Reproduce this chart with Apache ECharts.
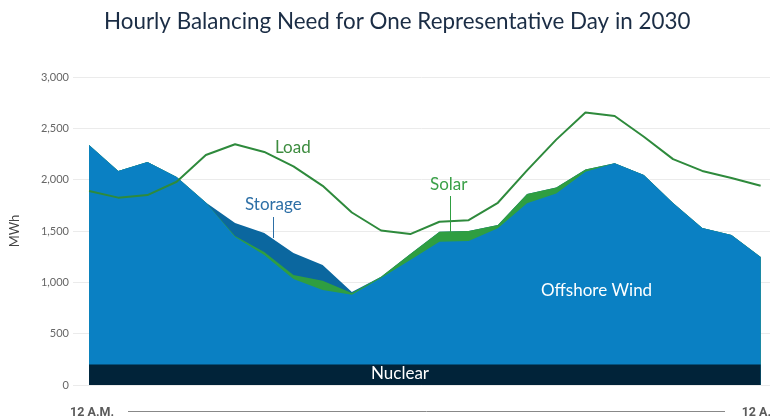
<!DOCTYPE html>
<html>
<head>
<meta charset="utf-8">
<script src="https://cdn.jsdelivr.net/npm/echarts@6/dist/echarts.min.js"></script>
<style>
  html, body { margin: 0; padding: 0; background: #fff; }
  #balance-chart { width: 770px; height: 419px; }
</style>
</head>
<body>
<div id="balance-chart"></div>
<script>
// hours of the day, 0 = 12 A.M.
var hours = [0, 1, 2, 3, 4, 5, 6, 7, 8, 9, 10, 11, 12, 13, 14, 15, 16, 17, 18, 19, 20, 21, 22, 23];
var endLabels = ['12 A.M.', '12 A.M.'];

// MWh per hour
var nuclear = [200, 200, 200, 200, 200, 200, 200, 200, 200, 200, 200, 200, 200, 200, 200, 200, 200, 200, 200, 200, 200, 200, 200, 200];
var offshoreWind = [2137, 1884, 1971, 1825, 1578, 1241, 1066, 832, 725, 680, 842, 1017, 1196, 1202, 1326, 1570, 1666, 1878, 1961, 1845, 1572, 1329, 1261, 1046];
var solar = [0, 0, 0, 0, 0, 10, 29, 40, 90, 15, 13, 60, 97, 98, 32, 90, 58, 22, 0, 0, 0, 0, 0, 0];
var storage = [0, 0, 0, 0, 0, 126, 185, 214, 153, 10, 0, 0, 0, 0, 0, 0, 0, 0, 0, 0, 0, 0, 0, 0];
var load = [1890, 1825, 1850, 1980, 2240, 2345, 2270, 2130, 1940, 1680, 1505, 1470, 1590, 1605, 1775, 2090, 2390, 2655, 2620, 2418, 2200, 2085, 2016, 1940];

// stacking done by hand (x is a value axis so the gridlines can run past the data)
var layers = [nuclear, offshoreWind, solar, storage];
var tops = [];
var run = hours.map(function () { return 0; });
layers.forEach(function (arr) {
    run = run.map(function (v, i) { return v + arr[i]; });
    tops.push(run.slice());
});

function pairs(arr) {
    return hours.map(function (h, i) { return [h, arr[i]]; });
}

function areaSeries(name, arr, color, z) {
    return {
        name: name,
        type: 'line',
        symbol: 'none',
        z: z,
        lineStyle: { width: 0 },
        areaStyle: { color: color, opacity: 1 },
        itemStyle: { color: color },
        data: pairs(arr)
    };
}

function label(text, x, y, color) {
    return { type: 'text', left: x, top: y, z: 100, style: { text: text, fill: color, font: '17px Lato' } };
}

function initBalanceChart() {
    var _chart = echarts.init(document.getElementById('balance-chart'));
    var option = {
        animation: false,
        title: {
            text: 'Hourly Balancing Need for One Representative Day in 2030',
            left: 99,
            top: 6,
            textStyle: {
                fontFamily: 'Lato',
                fontWeight: 'normal',
                fontSize: 22.4,
                color: '#1b2d45'
            }
        },
        grid: {
            left: 73,
            right: 0,
            top: 77,
            bottom: 34,
            outerBoundsMode: 'none'
        },
        xAxis: {
            type: 'value',
            min: -0.55,
            max: 23.32,
            axisLine: { show: false },
            axisTick: { show: false },
            splitLine: { show: false },
            axisLabel: {
                customValues: [0, 23],
                formatter: function (v) { return v === 0 ? endLabels[0] : endLabels[1]; },
                margin: 21,
                padding: [0, 0, 0, 6],
                fontFamily: 'Roboto',
                fontWeight: 'bold',
                fontSize: 12.5,
                color: '#5a5a5a'
            }
        },
        yAxis: {
            type: 'value',
            min: 0,
            max: 3000,
            interval: 500,
            name: 'MWh',
            nameLocation: 'middle',
            nameGap: 52,
            nameTextStyle: { fontFamily: 'Lato', fontSize: 13, color: '#444' },
            axisLine: { show: false },
            axisTick: { show: false },
            splitLine: { lineStyle: { color: '#ebebeb' } },
            axisLabel: {
                margin: 4,
                fontFamily: 'Lato',
                fontSize: 11,
                color: '#666',
                formatter: function (v) { return v.toLocaleString('en-US'); }
            }
        },
        series: [
            areaSeries('Storage', tops[3], '#0b679f', 2),
            areaSeries('Solar', tops[2], '#2f9e41', 3),
            areaSeries('Offshore Wind', tops[1], '#0a80c3', 4),
            areaSeries('Nuclear', tops[0], '#012339', 5),
            {
                name: 'Load',
                type: 'line',
                symbol: 'none',
                z: 6,
                lineStyle: { color: '#2e8a3c', width: 2 },
                data: pairs(load)
            }
        ],
        graphic: [
            { type: 'line', z: 100, shape: { x1: 128, y1: 411.5, x2: 725, y2: 411.5 }, style: { stroke: '#888', lineWidth: 1 } },
            label('Load', 275, 139, '#3d8c3f'),
            label('Storage', 245, 196, '#2d6fa6'),
            { type: 'line', z: 100, shape: { x1: 273.5, y1: 217, x2: 273.5, y2: 238 }, style: { stroke: '#2d6fa6', lineWidth: 1 } },
            label('Solar', 430, 176, '#3aa048'),
            { type: 'line', z: 100, shape: { x1: 450.5, y1: 196, x2: 450.5, y2: 232 }, style: { stroke: '#2f9e41', lineWidth: 1 } },
            label('Offshore Wind', 541, 282, '#fff'),
            label('Nuclear', 371, 365, '#fff')
        ]
    };
    _chart.setOption(option);
    window.addEventListener('resize', function () {
        _chart.resize();
    });
}

initBalanceChart();
</script>
</body>
</html>
